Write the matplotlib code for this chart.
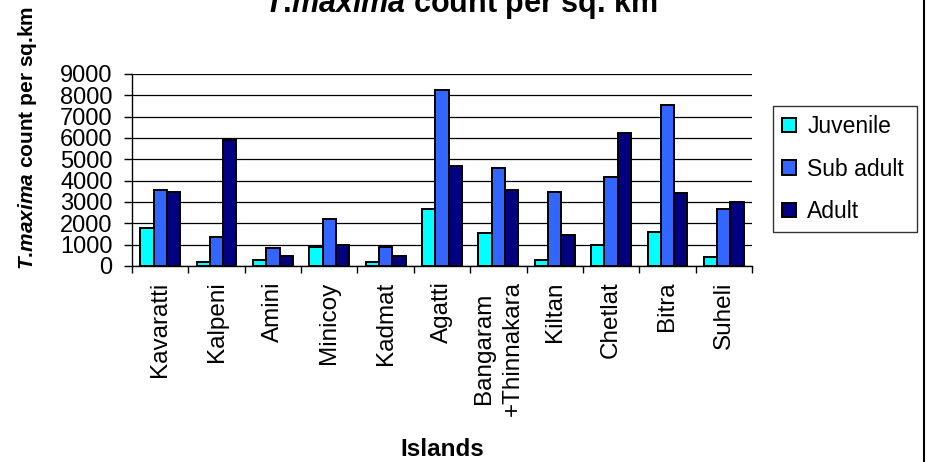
import matplotlib
matplotlib.use("Agg")
import matplotlib.pyplot as plt
from matplotlib.lines import Line2D
import numpy as np

plt.rcParams['font.family'] = ['Liberation Sans', 'DejaVu Sans']
plt.rcParams['mathtext.fontset'] = 'custom'
plt.rcParams['mathtext.it'] = 'Liberation Sans:italic:bold'
plt.rcParams['mathtext.rm'] = 'Liberation Sans:bold'
plt.rcParams['mathtext.bf'] = 'Liberation Sans:bold'

islands = ["Kavaratti", "Kalpeni", "Amini", "Minicoy", "Kadmat", "Agatti",
           "Bangaram\n+Thinnakara", "Kiltan", "Chetlat", "Bitra", "Suheli"]
juvenile = [1800, 200, 300, 900, 200, 2650, 1550, 300, 1000, 1600, 400]
sub_adult = [3550, 1350, 850, 2200, 900, 8250, 4600, 3450, 4150, 7550, 2650]
adult = [3450, 5900, 480, 1000, 480, 4700, 3550, 1450, 6250, 3400, 3000]
series_names = ["Juvenile", "Sub adult", "Adult"]
series_colors = ["#00FFFF", "#3366FF", "#000080"]
y_ticks = list(range(0, 10000, 1000))

W, H = 928, 462
fig = plt.figure(figsize=(W / 100, H / 100), dpi=100)
ax = fig.add_axes([132 / W, 1 - 266 / H, (752 - 132) / W, (266 - 74) / H])

x = np.arange(len(islands))
bw = 0.235
for i, (vals, name, col) in enumerate(zip([juvenile, sub_adult, adult], series_names, series_colors)):
    ax.bar(x + (i - 1) * bw, vals, width=bw, color=col, edgecolor='black',
           linewidth=1.4, label=name, zorder=3)

ax.set_xlim(-0.5, len(islands) - 0.5)
ax.set_ylim(0, 9000)
ax.set_yticks(y_ticks)
ax.set_yticklabels([str(v) for v in y_ticks], fontsize=17)
ax.yaxis.grid(True, color='black', linewidth=0.9, zorder=0)
ax.set_axisbelow(True)

# category labels centred, boundary ticks between categories
ax.set_xticks(x)
ax.set_xticklabels(islands, rotation=90, fontsize=17.5, va='top', ha='center',
                   multialignment='center', linespacing=1.4)
ax.tick_params(axis='x', which='major', length=0, pad=11)
ax.set_xticks(np.arange(-0.5, len(islands) + 0.5, 1), minor=True)
ax.tick_params(axis='x', which='minor', length=5, width=1, color='black', direction='out')
ax.tick_params(axis='y', length=6, width=1, color='black', direction='out', pad=8)

for s in ['top', 'right']:
    ax.spines[s].set_visible(False)
for s in ['left', 'bottom']:
    ax.spines[s].set_linewidth(1.0)
    ax.spines[s].set_color('black')

fig.text(461 / W, 1 - 12 / H, r"$\mathit{T}$.$\mathit{maxima}$ count per sq. km",
         ha='center', va='baseline', fontsize=22, fontweight='bold')
fig.text(28 / W, 1 - 138 / H, r"$\mathit{T}$.$\mathit{maxima}$ count per sq.km",
         ha='center', va='center', rotation=90, fontsize=15, fontweight='bold')
fig.text(442 / W, 1 - 449 / H, "Islands", ha='center', va='center',
         fontsize=17.5, fontweight='bold')

leg = ax.legend(loc='upper left',
                bbox_to_anchor=(773 / W, 1 - 229 / H, 144 / W, 123 / H),
                bbox_transform=fig.transFigure, mode='expand',
                fontsize=16.5, frameon=True,
                fancybox=False, edgecolor='black', handlelength=0.6,
                handleheight=0.6, handletextpad=0.5, labelspacing=0.85,
                borderpad=0.4, borderaxespad=0)
leg.get_frame().set_linewidth(1.0)

fig.add_artist(Line2D([924.5 / W, 924.5 / W], [0, 1], transform=fig.transFigure,
                      color='black', linewidth=1.5))

fig.savefig("out.png", dpi=100)
